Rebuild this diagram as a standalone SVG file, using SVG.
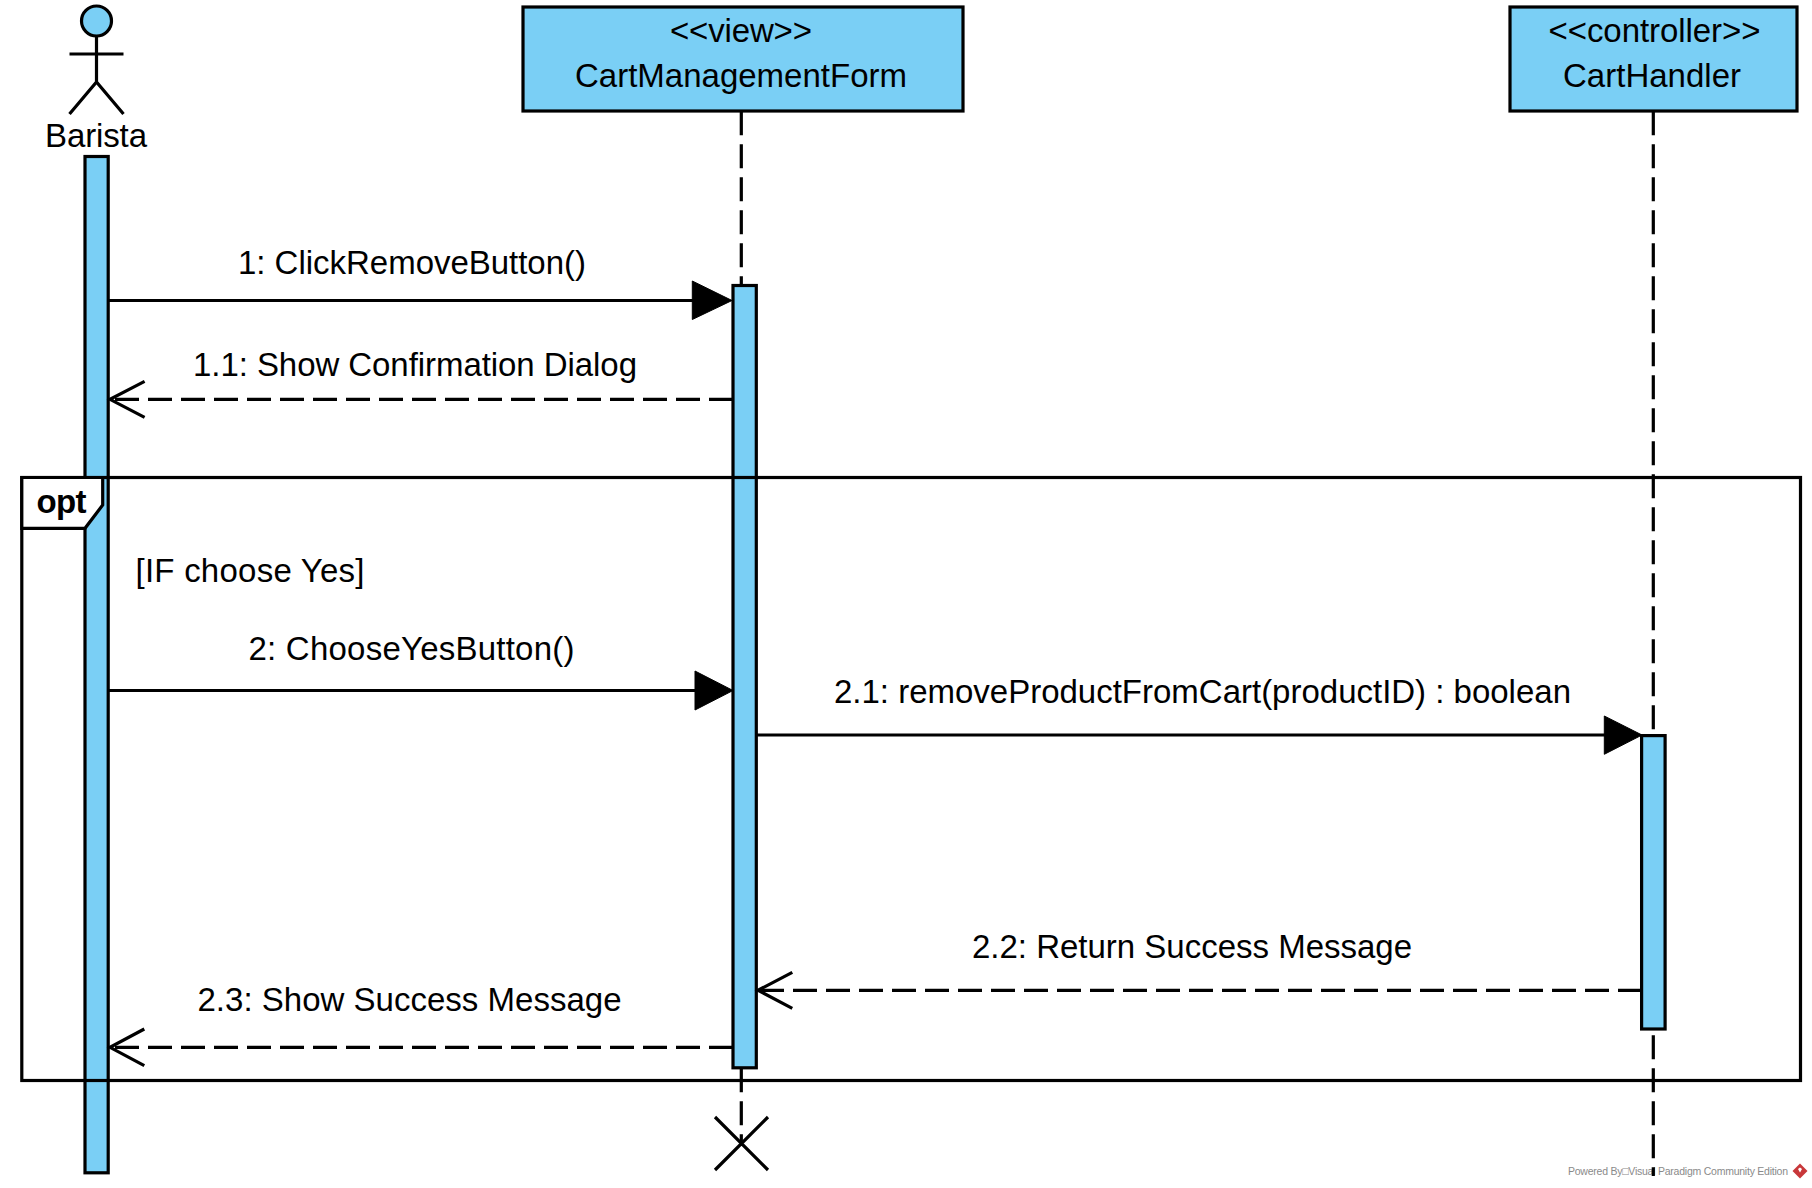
<svg xmlns="http://www.w3.org/2000/svg" width="1812" height="1188" viewBox="0 0 1812 1188">
<style>
text{font-family:"Liberation Sans",Arial,sans-serif;font-size:33px;fill:#000}
.m{text-anchor:middle}
.box{fill:#7acff5;stroke:#000;stroke-width:3.200}
.ln{fill:none;stroke:#000;stroke-width:3.200}
.d{stroke-dasharray:24 9}
.wm{font-size:10.500px;fill:#8a8a8a}
</style>
<rect width="1812" height="1188" fill="#fff"/>
<g id="watermark">
<text class="wm" x="1568" y="1175" textLength="220">Powered By□Visual Paradigm Community Edition</text>
<path d="M1800 1163.500L1807.500 1171L1800 1178.500L1792.500 1171Z" fill="#c8373a"/>
<path d="M1798 1169L1800 1167.500L1802 1169L1800 1172.500Z" fill="#fff"/>
</g>
<g id="lifelines">
<line class="ln d" x1="741.300" y1="111.300" x2="741.300" y2="1143.500"/>
<line class="ln d" x1="1653.300" y1="111.300" x2="1653.300" y2="1176"/>
</g>
<g id="barista">
<rect class="box" x="85" y="156.500" width="23.200" height="1016.300"/>
<circle class="box" cx="96.500" cy="21" r="15"/>
<path class="ln" d="M96.500 36V82M69.500 54H123.500M69.500 114L96.500 82L123.500 114"/>
<text class="m" x="96" y="147" textLength="102">Barista</text>
</g>
<g id="cartmanagementform">
<rect class="box" x="523" y="7" width="440" height="104"/>
<text class="m" x="741" y="42" textLength="142">&lt;&lt;view&gt;&gt;</text>
<text class="m" x="741" y="87" textLength="332">CartManagementForm</text>
<rect class="box" x="733" y="285.500" width="23.300" height="782.300"/>
<path class="ln" d="M715 1117L768 1170M768 1117L715 1170"/>
</g>
<g id="carthandler">
<rect class="box" x="1510" y="7" width="287" height="104"/>
<text class="m" x="1654.500" y="42" textLength="212">&lt;&lt;controller&gt;&gt;</text>
<text class="m" x="1652" y="87" textLength="178">CartHandler</text>
<rect class="box" x="1641.600" y="735.600" width="23.500" height="293.400"/>
</g>
<g id="opt">
<rect class="ln" x="21.800" y="477.500" width="1778.700" height="603"/>
<path d="M21.800 477.500H102.700V505L85 528.300H21.800Z" fill="#fff" stroke="#000" stroke-width="3.200"/>
<text x="36.500" y="513" font-weight="700" textLength="50">opt</text>
<text x="135.500" y="582" textLength="229">[IF choose Yes]</text>
</g>
<g id="connectors">
<line class="ln" x1="108" y1="300.500" x2="700" y2="300.500"/>
<path d="M692.300 281L732 300.500L692.300 319.500Z" stroke="#000" stroke-width="1" stroke-linejoin="round"/>
<path class="ln d" d="M733 399.300H110"/>
<path class="ln" d="M144.600 381.300L110 399.300L144.600 417.300"/>
<line class="ln" x1="108" y1="690.500" x2="700" y2="690.500"/>
<path d="M695 671L733 690.500L695 710Z" stroke="#000" stroke-width="1" stroke-linejoin="round"/>
<line class="ln" x1="756" y1="735" x2="1610" y2="735"/>
<path d="M1604.300 716L1642 735L1604.300 754.300Z" stroke="#000" stroke-width="1" stroke-linejoin="round"/>
<path class="ln d" d="M1642 990.300H758"/>
<path class="ln" d="M792.300 972.300L758 990.300L792.300 1008.300"/>
<path class="ln d" d="M733 1047.300H110"/>
<path class="ln" d="M144.300 1029L110 1047.300L144.300 1065.700"/>
</g>
<g id="labels">
<text class="m" x="412" y="273.500" textLength="348">1: ClickRemoveButton()</text>
<text class="m" x="415" y="375.500" textLength="444">1.1: Show Confirmation Dialog</text>
<text class="m" x="411.500" y="660" textLength="326">2: ChooseYesButton()</text>
<text class="m" x="1202.500" y="702.500" textLength="737">2.1: removeProductFromCart(productID) : boolean</text>
<text class="m" x="1192" y="957.500" textLength="440">2.2: Return Success Message</text>
<text class="m" x="409.500" y="1011" textLength="424">2.3: Show Success Message</text>
</g>
</svg>
